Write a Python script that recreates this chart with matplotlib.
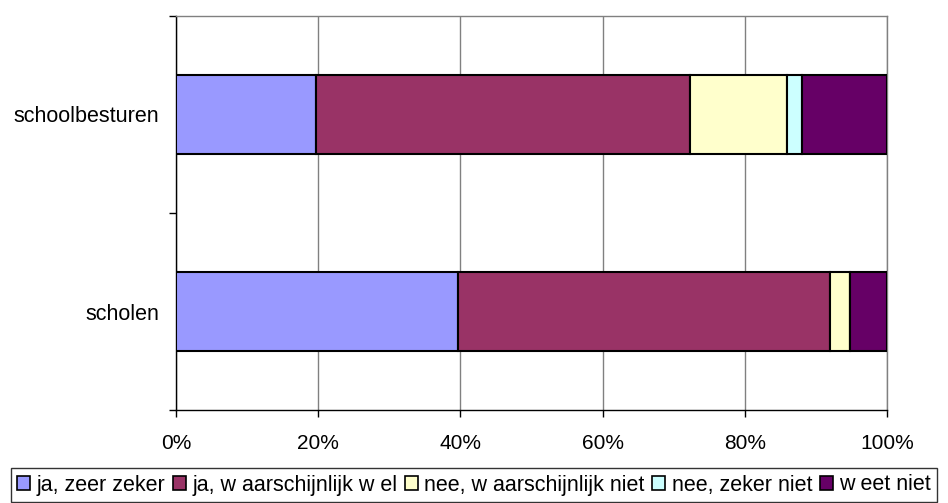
import matplotlib
matplotlib.use("Agg")
import matplotlib.pyplot as plt
import numpy as np

plt.rcParams['font.family'] = ['Liberation Sans', 'DejaVu Sans']

categories = ["scholen", "schoolbesturen"]
series = ["ja, zeer zeker", "ja, w aarschijnlijk w el", "nee, w aarschijnlijk niet",
          "nee, zeker niet", "w eet niet"]
ja_zeer_zeker = [39.7, 19.7]
ja_waarschijnlijk_wel = [52.3, 52.6]
nee_waarschijnlijk_niet = [2.8, 13.7]
nee_zeker_niet = [0.0, 2.1]
weet_niet = [5.2, 11.9]
colors = ["#9999FF", "#993366", "#FFFFCC", "#CCFFFF", "#660066"]

values = [ja_zeer_zeker, ja_waarschijnlijk_wel, nee_waarschijnlijk_niet,
          nee_zeker_niet, weet_niet]

fig = plt.figure(figsize=(9.48, 5.03), dpi=100)
ax = fig.add_axes([176/948, 1-410/503, 711/948, 394/503])

y = np.arange(len(categories))
left = np.zeros(len(categories))
handles = []
for vals, col, lab in zip(values, colors, series):
    b = ax.barh(y, vals, left=left, height=0.4, color=col, edgecolor='black',
                linewidth=1.5, label=lab, zorder=3)
    handles.append(b)
    left += np.array(vals)

ax.set_xlim(0, 100)
ax.set_ylim(-0.5, 1.5)
ax.set_xticks([0, 20, 40, 60, 80, 100])
ax.set_xticklabels(["0%", "20%", "40%", "60%", "80%", "100%"])
ax.set_yticks(y)
ax.set_yticklabels(categories)
ax.set_yticks([-0.5, 0.5, 1.5], minor=True)
ax.tick_params(axis='y', which='major', length=0, pad=12, labelsize=15.5)
ax.tick_params(axis='y', which='minor', length=5, width=1, color='black')
ax.tick_params(axis='x', length=5, width=1, pad=12, labelsize=15)

ax.grid(axis='x', color='#808080', linewidth=1, zorder=0)
ax.spines['top'].set_color('#808080')
ax.spines['right'].set_color('#808080')
ax.spines['left'].set_color('black')
ax.spines['bottom'].set_color('black')
for s in ax.spines.values():
    s.set_linewidth(1)

leg = fig.legend(handles=handles, labels=series, loc='center',
                 bbox_to_anchor=(0.5, 1-485/503), ncol=5, fontsize=15.5,
                 frameon=True, fancybox=False, edgecolor='black',
                 handlelength=0.6, handleheight=0.6, handletextpad=0.3,
                 columnspacing=0.35, borderpad=0.3)
leg.get_frame().set_linewidth(1)
for h in leg.legend_handles:
    h.set_linewidth(1.2)

fig.savefig("out.png", dpi=100)
